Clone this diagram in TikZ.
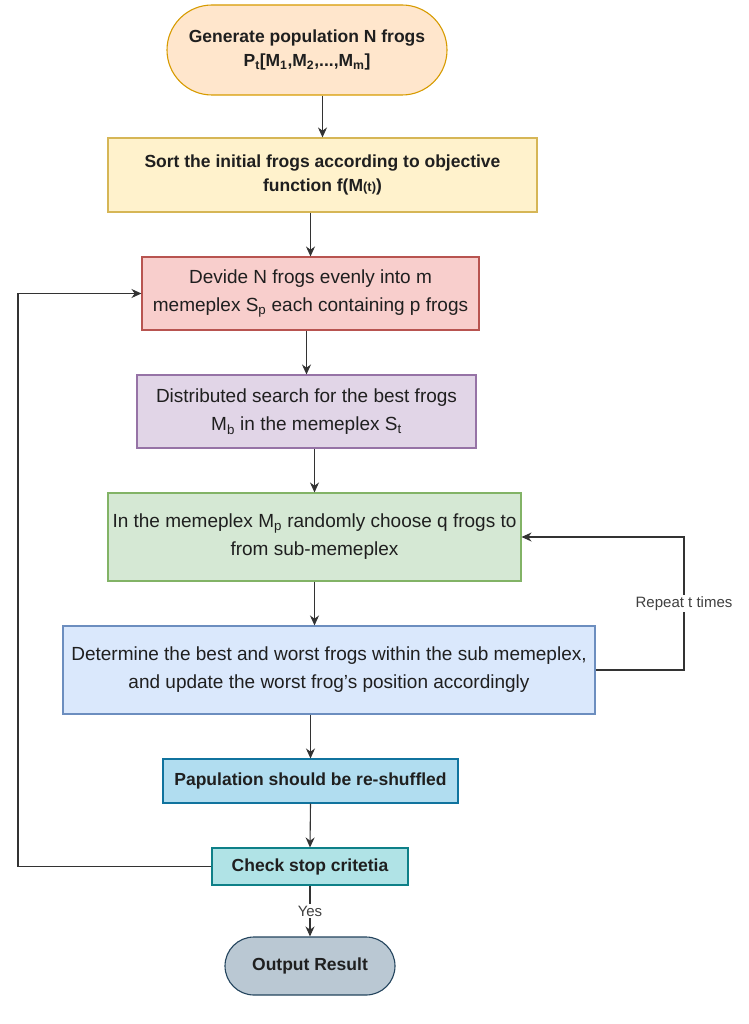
\documentclass[tikz,border=0pt]{standalone}
\usepackage{fontspec}
\setmainfont{Liberation Sans}
\usepackage{xcolor}
\usetikzlibrary{arrows.meta,positioning}

\definecolor{startfill}{HTML}{FFE6CC}
\definecolor{startline}{HTML}{D79B00}
\definecolor{sortfill}{HTML}{FFF2CC}
\definecolor{sortline}{HTML}{D6B656}
\definecolor{devfill}{HTML}{F8CECC}
\definecolor{devline}{HTML}{B85450}
\definecolor{distfill}{HTML}{E1D5E7}
\definecolor{distline}{HTML}{9673A6}
\definecolor{subfill}{HTML}{D5E8D4}
\definecolor{subline}{HTML}{82B366}
\definecolor{detfill}{HTML}{DAE8FC}
\definecolor{detline}{HTML}{6C8EBF}
\definecolor{papfill}{HTML}{B1DDF0}
\definecolor{papline}{HTML}{10739E}
\definecolor{chkfill}{HTML}{B0E3E6}
\definecolor{chkline}{HTML}{0E8088}
\definecolor{outfill}{HTML}{BAC8D3}
\definecolor{outline}{HTML}{23445D}

\tikzset{
  boxbase/.style={draw, line width=1.1pt, align=center, inner sep=0pt, text=black!88,
    font=\fontsize{19}{28}\selectfont},
  boldbox/.style={boxbase, font=\fontsize{17.5}{24.5}\selectfont\bfseries},
  termbox/.style={boldbox, rounded corners=#1},
  flow/.style={draw=black!80, line width=1.1pt, -{Stealth[length=10pt,width=9pt]}},
  tag/.style={fill=white, inner sep=1.5pt, text=black!75, font=\fontsize{15}{15}\selectfont}
}

\begin{document}
\begin{tikzpicture}[x=1pt,y=-1pt]
\useasboundingbox (0,0) rectangle (748,1024);

\node (start) at (307,50) [termbox=45pt, fill=startfill, draw=startline,
  minimum width=280pt, minimum height=90pt]
  {Generate population N frogs\\P\textsubscript{t}[M\textsubscript{1},M\textsubscript{2},...,M\textsubscript{m}]};

\node (sort) at (322.5,175) [boldbox, fill=sortfill, draw=sortline,
  minimum width=429pt, minimum height=74pt]
  {Sort the initial frogs according to objective\\function f(M{\fontsize{13}{13}\selectfont(t)})};

\node (devide) at (310.5,293.5) [boxbase, fill=devfill, draw=devline,
  minimum width=337pt, minimum height=73pt]
  {Devide N frogs evenly into m\\memeplex S\textsubscript{p} each containing p frogs};

\node (dist) at (306.5,411.5) [boxbase, fill=distfill, draw=distline,
  minimum width=339pt, minimum height=73pt]
  {Distributed search for the best frogs\\M\textsubscript{b} in the memeplex S\textsubscript{t}};

\node (sub) at (314.5,537) [boxbase, fill=subfill, draw=subline,
  minimum width=413pt, minimum height=88pt]
  {In the memeplex M\textsubscript{p} randomly choose q frogs to\\from sub-memeplex};

\node (det) at (329,670) [boxbase, fill=detfill, draw=detline,
  minimum width=532pt, minimum height=88pt]
  {Determine the best and worst frogs within the sub memeplex,\\and update the worst frog's position accordingly};

\node (pap) at (310.5,781) [boldbox, fill=papfill, draw=papline,
  minimum width=295pt, minimum height=44pt]
  {Papulation should be re-shuffled};

\node (check) at (310,866.5) [boldbox, fill=chkfill, draw=chkline,
  minimum width=196pt, minimum height=37pt]
  {Check stop critetia};

\node (out) at (310,966) [termbox=29pt, fill=outfill, draw=outline,
  minimum width=170pt, minimum height=58pt]
  {Output Result};

\coordinate (backleft) at (18,866.5);
\coordinate (backright) at (684,670);

\draw [flow] (start.south -| sort) -- (sort.north);
\draw [flow] (devide |- sort.south) -- (devide.north);
\draw [flow] (dist |- devide.south) -- (dist.north);
\draw [flow] (sub |- dist.south) -- (sub.north);
\draw [flow] (sub.south) -- (sub.south |- det.north);
\draw [flow] (pap |- det.south) -- (pap.north);
\draw [flow] (pap.south) -- (check.north);
\draw [flow] (check.south) -- node [tag] {Yes} (out.north);

\draw [flow] (check.west) -- (backleft) |- (devide.west);
\draw [flow] (det.east) -- (backright) |- node [tag, pos=0.25] {Repeat t times} (sub.east);

\end{tikzpicture}
\end{document}
